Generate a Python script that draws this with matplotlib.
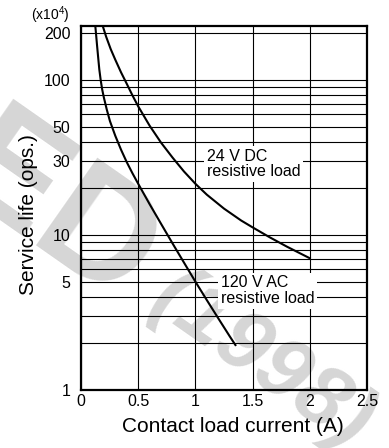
import matplotlib
matplotlib.use("Agg")
import matplotlib.pyplot as plt
from matplotlib.ticker import FixedLocator, NullFormatter

plt.rcParams['font.family'] = ['Liberation Sans', 'DejaVu Sans']
plt.rcParams['mathtext.default'] = 'regular'

# data (x: A, y: x10^4 ops)
dc24_x = [0.19, 0.22, 0.26, 0.30, 0.35, 0.40, 0.45, 0.50, 0.60, 0.70, 0.80, 0.90,
          1.00, 1.10, 1.25, 1.40, 1.50, 1.65, 1.80, 2.00]
dc24_y = [223, 190, 158, 135, 112, 94.5, 79.5, 67.6, 50.7, 39.4, 31.6, 25.7,
          21.4, 18.2, 14.8, 12.4, 11.2, 9.66, 8.41, 7.08]
ac120_x = [0.125, 0.131, 0.14, 0.15, 0.16, 0.172, 0.185, 0.20, 0.225, 0.253, 0.30, 0.35,
           0.40, 0.45, 0.50, 0.60, 0.70, 0.80, 0.90, 1.00, 1.10, 1.20, 1.30, 1.35]
ac120_y = [223, 200, 168, 140, 117, 100, 87, 77, 64.6, 54.3, 43.6, 35.5,
           29.5, 25.0, 21.4, 15.8, 11.8, 8.83, 6.64, 5.0, 3.8, 2.9, 2.22, 1.95]

ytick_vals = [1, 5, 10, 30, 50, 100, 200]
xtick_vals = [0, 0.5, 1, 1.5, 2, 2.5]
xtick_labels = ['0', '0.5', '1', '1.5', '2', '2.5']

fig = plt.figure(figsize=(3.89, 4.48), dpi=100)
ax = fig.add_axes([81/389, 1-390/448, 286/389, 364/448])
ax.patch.set_alpha(0)

# watermark behind the grid
wm = '#d6d6d6'
fig.text(52/389, 1-215/448, 'ED', fontsize=112, fontweight='bold', color=wm,
         rotation=-35, ha='center', va='center', zorder=-5)
fig.text(262/389, 1-362/448, '(1998)', fontsize=62, fontweight='bold', style='italic',
         color=wm, rotation=-35, ha='center', va='center', zorder=-5)

ax.set_yscale('log')
ax.set_xlim(0, 2.5)
ax.set_ylim(1, 223)

minor = [m * d for d in [1, 10, 100] for m in range(2, 10) if m * d <= 200]
ax.yaxis.set_major_locator(FixedLocator(ytick_vals))
ax.yaxis.set_major_formatter(plt.FixedFormatter([str(v) for v in ytick_vals]))
ax.yaxis.set_minor_locator(FixedLocator(minor))
ax.yaxis.set_minor_formatter(NullFormatter())
ax.set_xticks(xtick_vals)
ax.set_xticklabels(xtick_labels)

ax.grid(True, which='both', axis='y', color='black', lw=0.8, zorder=1)
ax.grid(True, which='major', axis='x', color='black', lw=0.8, zorder=1)
ax.set_axisbelow(True)

ax.tick_params(which='both', length=0)
ax.tick_params(axis='y', labelsize=11.5, pad=7.5)
ax.tick_params(axis='x', labelsize=11.5, pad=3)

for s in ax.spines.values():
    s.set_linewidth(1.6)

ax.plot(dc24_x, dc24_y, color='black', lw=1.5, zorder=3)
ax.plot(ac120_x, ac120_y, color='black', lw=1.5, zorder=3)

box = dict(facecolor='white', edgecolor='none', pad=2)
ax.text(1.10, 36, '24 V DC\nresistive load', fontsize=11.5, linespacing=1.05,
        va='top', ha='left', bbox=box, zorder=4)
ax.text(1.22, 5.5, '120 V AC\nresistive load', fontsize=11.5, linespacing=1.05,
        va='top', ha='left', bbox=box, zorder=4)

ax.set_xlabel('Contact load current (A)', fontsize=15)
ax.xaxis.set_label_coords(0.53, -0.075)
ax.set_ylabel('Service life (ops.)', fontsize=15)
ax.yaxis.set_label_coords(-0.15, 0.483)

fig.text(70/389, 1-15/448, '(x10$^{4}$)', fontsize=10, ha='right', va='center')

fig.savefig('out.png', dpi=100)
